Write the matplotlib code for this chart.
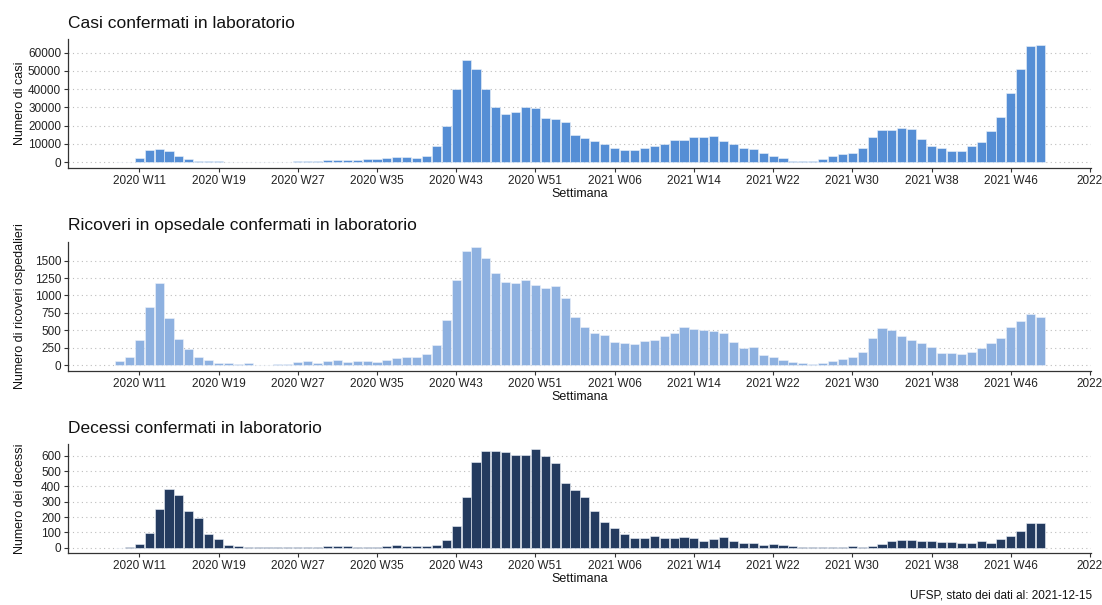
import matplotlib
matplotlib.use("Agg")
import matplotlib.pyplot as plt
from matplotlib.transforms import ScaledTranslation

plt.rcParams['font.family'] = ['Liberation Sans', 'DejaVu Sans']

# settimane: da 2020 W09 a 2021 W49 (2020 ha 53 settimane)
settimane = [f"2020 W{w:02d}" for w in range(9, 54)] + [f"2021 W{w:02d}" for w in range(1, 50)]

casi = [150, 200, 2200, 6400, 7300, 5900, 3500, 1600, 900, 600, 400, 250,
        150, 120, 100, 120, 150, 300,
        700, 800, 850, 950, 1100, 1250, 1400, 1500, 1800, 2200, 2700, 2700, 2100, 3300,
        8800, 19600, 39900, 55800, 51100, 40000, 30200, 26200, 27300, 30000, 29400, 24000, 23600, 22100, 14900,
        13300, 11500, 9900, 7900, 6800, 6800, 7500, 8600, 10200, 12100, 12100, 13900, 13900,
        14300, 11700, 10100, 7700, 7100, 4800, 3300, 2000, 900, 550, 700, 1800, 3500, 4600, 4800,
        7500, 13900, 17700, 17700, 18500, 17900, 12600, 9100, 7500, 6000, 6000, 8600, 11300, 17000,
        24700, 37700, 51200, 63400, 64200]

ricoveri = [57, 115, 354, 833, 1173, 670, 378, 225, 110, 67, 29, 24,
            14, 24, 5, 5, 14, 14,
            38, 57, 34, 62, 67, 48, 57, 57, 43, 77, 100, 110, 115, 163,
            287, 651, 1221, 1643, 1691, 1533, 1327, 1197, 1173, 1216, 1149, 1111, 1140, 958, 694,
            546, 465, 426, 330, 316, 297, 345, 359, 412, 465, 546, 517, 498,
            493, 465, 335, 249, 254, 148, 115, 72, 48, 29, 14, 29, 62, 91, 120,
            182, 383, 536, 498, 417, 364, 316, 254, 172, 172, 163, 187, 240, 311,
            393, 546, 637, 738, 685]

decessi = [0, 5, 27, 98, 250, 384, 341, 239, 193, 92, 55, 20,
           13, 4, 3, 3, 2, 2,
           4, 5, 5, 8, 8, 8, 7, 7, 3, 11, 15, 11, 11, 9,
           15, 48, 144, 330, 557, 629, 629, 622, 605, 605, 644, 600, 550, 421, 373,
           332, 242, 166, 127, 87, 66, 66, 74, 61, 61, 72, 63, 46,
           55, 70, 41, 28, 33, 17, 24, 15, 11, 4, 4, 3, 3, 7, 13,
           4, 13, 24, 41, 50, 52, 45, 41, 36, 35, 33, 31, 46, 33,
           59, 74, 109, 159, 159]

etichette_x = ["2020 W11", "2020 W19", "2020 W27", "2020 W35", "2020 W43", "2020 W51",
               "2021 W06", "2021 W14", "2021 W22", "2021 W30", "2021 W38", "2021 W46", "2022"]

pannelli = [
    ("Casi confermati in laboratorio", "Numero di casi", casi, "#558ED5",
     [0, 10000, 20000, 30000, 40000, 50000, 60000]),
    ("Ricoveri in opsedale confermati in laboratorio", "Numero di ricoveri ospedalieri", ricoveri, "#8EB1E0",
     [0, 250, 500, 750, 1000, 1250, 1500]),
    ("Decessi confermati in laboratorio", "Numero dei decessi", decessi, "#243B5F",
     [0, 100, 200, 300, 400, 500, 600]),
]
posizioni = [[0.0617, 0.7223, 0.9283, 0.2132],
             [0.0617, 0.3868, 0.9283, 0.2140],
             [0.0617, 0.0866, 0.9283, 0.1795]]

fig = plt.figure(figsize=(11.02, 6.05), dpi=100)
x = list(range(len(settimane)))
tick_pos = [2 + 8 * i for i in range(len(etichette_x))]
sposta = ScaledTranslation(10.5 / 100, 0, fig.dpi_scale_trans)

for (titolo, ylab, valori, colore, yt), pos in zip(pannelli, posizioni):
    ax = fig.add_axes(pos)
    ax.bar(x, valori, width=0.92, color=colore, edgecolor="#eef3fa", linewidth=0.4, zorder=2)
    ax.set_xlim(-5.2, 98.1)
    m = max(valori)
    ax.set_ylim(-0.05 * m, 1.05 * m)
    ax.set_yticks(yt)
    ax.set_xticks(tick_pos)
    ax.set_xticklabels(etichette_x)
    for lab in ax.get_xticklabels():
        lab.set_transform(lab.get_transform() + sposta)
    ax.grid(axis="y", color="#bdbdbd", linestyle=(0, (1, 3)), linewidth=0.8, zorder=0)
    ax.grid(axis="x", visible=False)
    for s in ["top", "right"]:
        ax.spines[s].set_visible(False)
    for s in ["left", "bottom"]:
        ax.spines[s].set_color("#333333")
        ax.spines[s].set_linewidth(0.9)
    ax.tick_params(axis="both", length=3, width=0.8, color="#333333", labelsize=8.5,
                   labelcolor="#222222", pad=2)
    ax.set_title(titolo, loc="left", fontsize=12.5, pad=8, color="#111111")
    ax.set_xlabel("Settimana", fontsize=9, labelpad=1, color="#111111")
    ax.set_ylabel(ylab, fontsize=9, color="#111111")

for a in fig.axes:
    a.yaxis.set_label_coords(-0.041, 0.5)

fig.text(0.991, 0.006, "UFSP, stato dei dati al: 2021-12-15", ha="right", va="bottom",
         fontsize=8.5, color="#111111")

fig.savefig("out.png", dpi=100)
